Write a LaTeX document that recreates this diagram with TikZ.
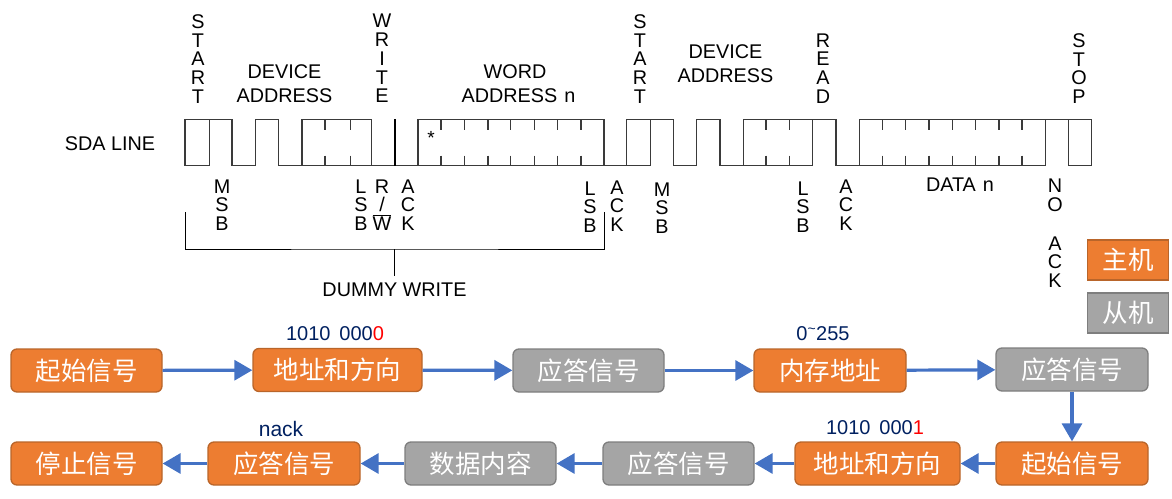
\documentclass[tikz,border=0pt]{standalone}
\usepackage{fontspec}
\setmainfont{Liberation Sans}
\newfontfamily\cjk{Noto Sans CJK SC}
\usetikzlibrary{arrows.meta}
\definecolor{mOrange}{HTML}{ED7D31}
\definecolor{mOrangeD}{HTML}{B9652A}
\definecolor{mGray}{HTML}{A5A5A5}
\definecolor{mGrayD}{HTML}{7E7E7E}
\definecolor{mBlue}{HTML}{4472C4}
\definecolor{mNavy}{HTML}{002060}
\definecolor{mWave}{HTML}{3A3A3A}
\tikzset{
  lbl/.style={inner sep=0pt,align=center,text=black,font=\fontsize{19.8}{18.8}\selectfont},
  lblwide/.style={inner sep=0pt,align=center,text=black,font=\fontsize{19.8}{23.5}\selectfont},
  note/.style={inner sep=0pt,text=mNavy,font=\fontsize{20}{22}\selectfont},
  flow/.style={inner sep=0pt,text=white,minimum height=43pt,rounded corners=6pt,line width=1.3pt,font=\cjk\fontsize{25.5}{28}\selectfont},
  master/.style={flow,fill=mOrange,draw=mOrangeD},
  slave/.style={flow,fill=mGray,draw=mGrayD},
  legendbox/.style={inner sep=0pt,text=white,minimum width=81pt,minimum height=40pt,line width=1.6pt,font=\cjk\fontsize{25.5}{28}\selectfont},
  wave/.style={draw=mWave,line width=1.2pt,line join=miter},
  tick/.style={draw=mWave,line width=1.1pt},
  link/.style={draw=mBlue,line width=3.2pt,-{Triangle[length=18pt,width=20pt]}},
}
\begin{document}
\begin{tikzpicture}[x=1pt,y=-1pt]
\useasboundingbox (0,0) rectangle (1172,498);
% top labels
\node[lbl] (t1) at (198,59) {S\\T\\A\\R\\T};
\node[lblwide] (t2) at (284.500,83.500) {DEVICE\\ADDRESS};
\node[lbl] (t3) at (382,58.500) {W\\R\\I\\T\\E};
\node[lblwide] (t4) at (518.500,83.500) {WORD\hspace*{7pt}\\ADDRESS\hspace{7pt}n};
\node[lbl] (t5) at (640,59) {S\\T\\A\\R\\T};
\node[lblwide] (t6) at (725.500,63.500) {DEVICE\\ADDRESS};
\node[lbl] (t7) at (823,68.500) {R\\E\\A\\D};
\node[lbl] (t8) at (1079,68.500) {S\\T\\O\\P};
\node[lbl,anchor=center] (sda) at (110,144) {SDA LINE};
% waveform, first part
\draw[wave] (185,119.300) rectangle (209.300,165.700);
\draw[wave] (209.300,119.300) -- (232,119.300) -- (232,165.700) -- (255.700,165.700) -- (255.700,119.300) -- (278.700,119.300) -- (278.700,165.700) -- (604,165.700);
\draw[wave] (302,165.700) -- (302,119.300) -- (371.700,119.300) -- (371.700,165.700);
\draw[wave] (418,165.700) -- (418,119.300) -- (604,119.300) -- (604,165.700) -- (626.700,165.700);
\draw[draw=black,line width=2.4pt] (395,119.300) -- (395,165.700);
\foreach \x in {325,350.700,441,464.700,488,510.300,534.700,557.300,581}{
  \draw[tick] (\x,119.300) -- (\x,129.500);
  \draw[tick] (\x,155.500) -- (\x,165.700);
}
\node[inner sep=0pt,font=\fontsize{19}{18}\selectfont] (star) at (431,137.500) {*};
% waveform, second part
\draw[wave] (626.700,165.700) -- (626.700,119.300) -- (673.300,119.300) -- (673.300,165.700) -- (696.700,165.700) -- (696.700,119.300) -- (720,119.300) -- (720,165.700) -- (812.700,165.700);
\draw[wave] (626.700,165.700) -- (650.300,165.700) -- (650.300,119.300);
\draw[wave] (743.300,165.700) -- (743.300,119.300) -- (836,119.300) -- (836,165.700) -- (859.300,165.700) -- (859.300,119.300) -- (1091.700,119.300) -- (1091.700,165.700) -- (1068.300,165.700) -- (1068.300,119.300);
\draw[wave] (812.700,119.300) -- (812.700,165.700);
\draw[wave] (859.300,165.700) -- (1045.300,165.700) -- (1045.300,119.300);
\foreach \x in {766,789.300,882.700,905.700,929,952.300,975.700,999,1022}{
  \draw[tick] (\x,119.300) -- (\x,129.500);
  \draw[tick] (\x,155.500) -- (\x,165.700);
}
% lower labels
\node[lbl] (b1) at (222,205) {M\\S\\B};
\node[lbl] (b2) at (361,205) {L\\S\\B};
\node[lbl] (b3) at (382,205) {R\\/\\$\overline{\hbox{W}}$};
\node[lbl] (b4) at (408,205) {A\\C\\K};
\node[lbl] (b5) at (590,207) {L\\S\\B};
\node[lbl] (b6) at (617,206) {A\\C\\K};
\node[lbl] (b7) at (662,208) {M\\S\\B};
\node[lbl] (b8) at (803,207) {L\\S\\B};
\node[lbl] (b9) at (846,205) {A\\C\\K};
\node[lbl] (b10) at (960,185) {DATA\hspace{7pt}n};
\node[lbl] (b11) at (1055,195.500) {N\\O};
\node[lbl] (b12) at (1055,262) {A\\C\\K};
% bracket
\coordinate (brL) at (185,212);
\coordinate (brR) at (604,212);
\coordinate (brM) at (394.500,249);
\node[lbl] (dummy) at (394.500,290) {DUMMY WRITE};
\draw[wave,draw=black,line width=1pt] (brL) |- (brM) -| (brR);
\draw[wave,draw=black,line width=1pt] (brM) -- (394.500,276);
% legend
\node[legendbox,fill=mOrange,draw=mOrangeD] (lm) at (1128,260) {主机};
\node[legendbox,fill=mGray,draw=mGrayD] (ls) at (1128,313) {从机};
% flow row 1
\node[master,minimum width=151pt] (a1) at (86.500,370.500) {起始信号};
\node[master,minimum width=169pt] (a2) at (337.500,370) {地址和方向};
\node[slave,minimum width=151pt] (a3) at (588.500,370.500) {应答信号};
\node[master,minimum width=152pt] (a4) at (830,370.500) {内存地址};
\node[slave,minimum width=152pt] (a5) at (1072,369.500) {应答信号};
% flow row 2
\node[master,minimum width=151pt] (c1) at (86.500,463.500) {停止信号};
\node[master,minimum width=152pt] (c2) at (284,463.500) {应答信号};
\node[slave,minimum width=151pt] (c3) at (480.500,463.500) {数据内容};
\node[slave,minimum width=151pt] (c4) at (678.500,463.500) {应答信号};
\node[master,minimum width=165pt] (c5) at (877.500,463.500) {地址和方向};
\node[master,minimum width=152pt] (c6) at (1072,463.500) {起始信号};
% notes
\node[note] (n1) at (335,333.500) {1010\hspace{9pt}000\textcolor{red}{0}};
\node[note] (n2) at (823,334) {0\textsuperscript{\textasciitilde}255};
\node[note] (n3) at (875,428) {1010\hspace{9pt}000\textcolor{red}{1}};
\node[note,font=\fontsize{21}{22}\selectfont] (n4) at (281,429) {nack};
% connectors
\draw[link] (a1) -- (a2);
\draw[link] (a2) -- (a3);
\draw[link] (a3) -- (a4);
\draw[link] (a4) -- (a5);
\draw[link] (a5) -- (c6);
\draw[link] (c6) -- (c5);
\draw[link] (c5) -- (c4);
\draw[link] (c4) -- (c3);
\draw[link] (c3) -- (c2);
\draw[link] (c2) -- (c1);
\end{tikzpicture}
\end{document}
